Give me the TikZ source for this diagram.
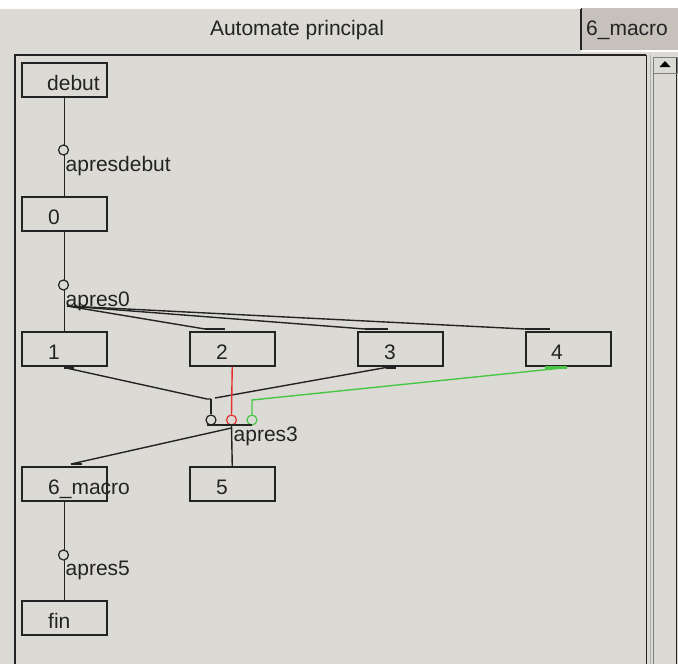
\documentclass[tikz,border=0pt]{standalone}
\usepackage{fontspec}
\setmainfont{Liberation Sans}
\definecolor{bg}{RGB}{220,218,213}
\definecolor{tabdark}{RGB}{198,194,187}
\definecolor{edge}{RGB}{35,35,35}
\definecolor{grn}{RGB}{70,200,70}
\definecolor{rd}{RGB}{225,50,50}
\tikzset{
 statebox/.style={draw=edge, line width=1.5pt, minimum width=85pt, minimum height=34pt, inner sep=0pt, anchor=north west},
 txt/.style={anchor=base west, inner sep=0pt, font=\fontsize{21}{25}\selectfont, text=edge},
 conn/.style={draw=edge, line width=1.4pt},
 place/.style={circle, draw=edge, line width=1.2pt, fill=bg, minimum size=10pt, inner sep=0pt},
 stub/.style={draw=edge, line width=2.6pt},
}
\begin{document}
\begin{tikzpicture}[x=1pt,y=-1pt]
\useasboundingbox (0,0) rectangle (678,664);
\fill[bg] (0,0) rectangle (678,664);
\fill[white] (0,0) rectangle (678,8);
% tabs
\fill[tabdark] (581,8) rectangle (678,50);
\draw[edge, line width=1.5pt] (581,8) -- (581,50);
\draw[white, line width=1pt] (0,8.5) -- (581,8.5);
\draw[white, line width=1.5pt] (581,51) -- (678,51);
\node[txt, anchor=base] (tabA) at (297,35) {Automate principal};
\node[txt] (tabB) at (586,35) {6\_macro};
% canvas frame and scrollbar
\draw[edge, line width=2pt] (15,664) -- (15,55) -- (646,55);
\draw[edge, line width=1pt] (646,55) -- (646,664);
\draw[gray!60, line width=1pt] (650,55) -- (650,664);
\draw[gray, line width=1pt] (653,57) -- (653,664);
\draw[edge, line width=1.5pt] (676.5,57) -- (676.5,664);
\draw[gray, line width=1pt] (653,57) rectangle (677,73);
\fill[black] (659.5,67) -- (670.5,67) -- (665,61) -- cycle;
% states
\node[statebox] (debut) at (21,62) {};
\node[statebox] (s0) at (21,196) {};
\node[statebox] (s1) at (21,331) {};
\node[statebox] (s2) at (189,331) {};
\node[statebox] (s3) at (357,331) {};
\node[statebox] (s4) at (525,331) {};
\node[statebox] (macro) at (21,466) {};
\node[statebox] (s5) at (189,466) {};
\node[statebox] (fin) at (21,600) {};
\node[txt] (debutT) at (47,90) {debut};
\node[txt] (s0T) at (48,224) {0};
\node[txt] (s1T) at (48,359) {1};
\node[txt] (s2T) at (216,359) {2};
\node[txt] (s3T) at (384,359) {3};
\node[txt] (s4T) at (551,359) {4};
\node[txt] (macroT) at (48,494) {6\_macro};
\node[txt] (s5T) at (216,494) {5};
\node[txt] (finT) at (48,628) {fin};
% transition apresdebut
\draw[conn] (debut.south) -- (s0.north);
\node[place] (p1) at (63.5,150) {};
\node[txt] (l1) at (65.5,171) {apresdebut};
% transition apres0
\draw[conn] (s0.south) -- (s1.north);
\coordinate (j0) at (67,306);
\draw[conn] (j0) -- ([xshift=16pt,yshift=2pt]s2.north west) coordinate (a2);
\draw[stub] (a2) -- ++(20,0);
\draw[conn] (j0) -- ([xshift=8pt,yshift=2pt]s3.north west) coordinate (a3);
\draw[stub] (a3) -- ++(23,0);
\draw[conn] (j0) -- ([xshift=0pt,yshift=2pt]s4.north west) coordinate (a4);
\draw[stub] (a4) -- ++(25,0);
\node[place] (p2) at (63.5,285) {};
\node[txt] (l2) at (65.5,306) {apres0};
% transition apres3
\coordinate (j3) at (211,399);
\coordinate (g3) at (252,400);
\draw[stub] ([xshift=43pt,yshift=-1pt]s1.south west) coordinate (b1) -- ++(10,0);
\draw[conn] (b1) -- (207,399) -- (j3);
\draw[stub] ([xshift=29pt,yshift=-1pt]s3.south west) coordinate (b3) -- ++(10,0);
\draw[conn] (b3) -- (215,398);
\node[place] (p3a) at (211,420) {};
\node[place, draw=rd] (p3b) at (231.5,420) {};
\node[place, draw=grn] (p3c) at (252,420) {};
\draw[conn] (j3) -- (p3a.north);
\draw[rd, line width=1.4pt] (s2.south) -- (p3b.north);
\draw[grn, line width=2.6pt] ([xshift=20pt,yshift=-1pt]s4.south west) -- ([xshift=42pt,yshift=-1pt]s4.south west) coordinate (b4);
\draw[grn, line width=1.4pt] (b4) -- (g3) -- (p3c.north);
\draw[conn] (207,425) -- (252,425);
\draw[conn] (231.5,425) -- (s5.north);
\coordinate (j3b) at (231.5,428);
\draw[conn] (j3b) -- ([xshift=50pt,yshift=2pt]macro.north west) coordinate (c6);
\draw[stub] (c6) -- ++(11,0);
\node[txt] (l3) at (233.5,441) {apres3};
% transition apres5
\draw[conn] (macro.south) -- (fin.north);
\node[place] (p4) at (63.5,555) {};
\node[txt] (l4) at (65.5,575) {apres5};
\end{tikzpicture}
\end{document}
